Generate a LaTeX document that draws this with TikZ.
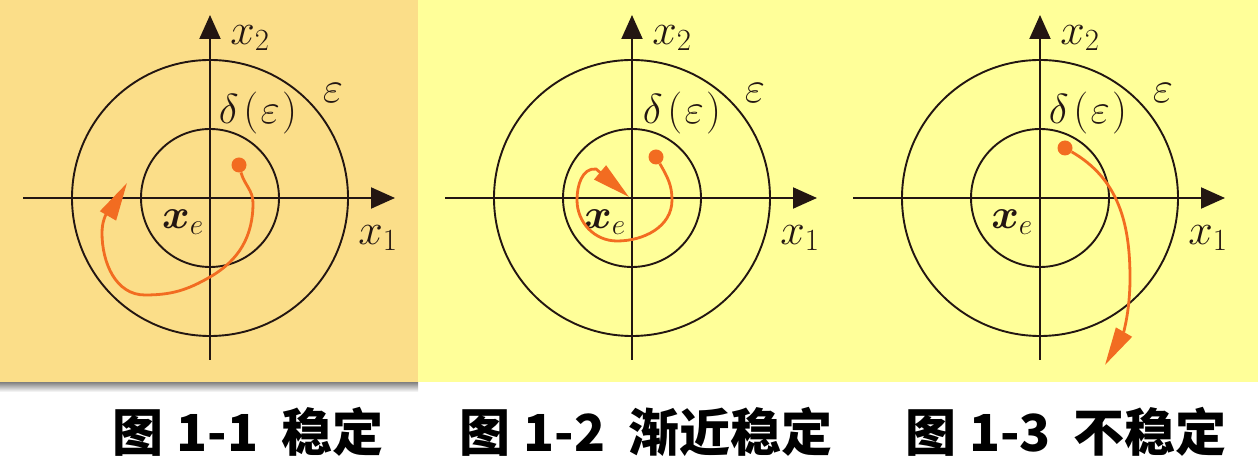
\RequirePackage{fix-cm}
\documentclass[tikz,border=0pt]{standalone}
\usepackage{fontspec}
\newfontfamily\cjk{Noto Sans CJK SC}
\usepackage{amsmath,bm}
\usetikzlibrary{arrows.meta}
\definecolor{panelA}{RGB}{251,222,137}
\definecolor{panelB}{RGB}{255,255,153}
\definecolor{shade}{RGB}{232,230,236}
\definecolor{axiscol}{RGB}{35,22,18}
\definecolor{orbitcol}{RGB}{242,108,33}
\tikzset{
  axis/.style={line width=2pt,color=axiscol,-{Triangle[length=24pt,width=21pt]}},
  ring/.style={line width=1.9pt,color=axiscol},
  orbit/.style={line width=2.8pt,color=orbitcol,-{Triangle[length=38pt,width=18pt]}},
  dot/.style={circle,fill=orbitcol,minimum size=15pt,inner sep=0pt},
  lbl/.style={inner sep=0pt,text=axiscol,font=\fontsize{44}{44}\selectfont},
  slbl/.style={inner sep=0pt,text=axiscol,font=\fontsize{42}{42}\selectfont},
  figcap/.style={inner sep=0pt,font=\cjk\bfseries\fontsize{51}{51}\selectfont}
}
\begin{document}
\begin{tikzpicture}[x=1pt,y=1pt]
    \useasboundingbox (0,0) rectangle (1258,471);
    \fill[white] (0,0) rectangle (1258,471);
    \fill[shade] (0,79) rectangle (418,89);
    \fill[panelA] (0,89) rectangle (418,471);
    \fill[panelB] (418,89) rectangle (1258,471);

    % stable
    \begin{scope}[shift={(210,273)}]
      \draw[ring] (0,0) circle (138);
      \draw[ring] (0,0) circle (69);
      \draw[axis] (-187,0) -- (185,0);
      \draw[axis] (0,-162) -- (0,183);
      \node[lbl] (xa2) at (40,160) {$x_2$};
      \node[lbl] (xa1) at (168,-40) {$x_1$};
      \node[lbl] (epsa) at (123,105) {$\varepsilon$};
      \node[slbl] (dela) at (48,85) {$\delta\mkern2mu(\mkern1mu\varepsilon\mkern1mu)$};
      \node[slbl] (xea) at (-27,-24) {$\bm{x}_e$};
      \node[dot] (sa) at (29,33) {};
      \coordinate (ta) at (-83,15);
      \draw[orbit] (sa) to[out=-75,in=90] (43,-5) to[out=-90,in=30] (0,-79)
           to[out=210,in=0] (-65,-97) to[out=180,in=-90] (-108,-35)
           to[out=90,in=240] (ta);
    \end{scope}

    % asymptotically stable
    \begin{scope}[shift={(632,273)}]
      \draw[ring] (0,0) circle (138);
      \draw[ring] (0,0) circle (69);
      \draw[axis] (-187,0) -- (185,0);
      \draw[axis] (0,-162) -- (0,183);
      \node[lbl] (xb2) at (40,160) {$x_2$};
      \node[lbl] (xb1) at (168,-40) {$x_1$};
      \node[lbl] (epsb) at (123,105) {$\varepsilon$};
      \node[slbl] (delb) at (50,85) {$\delta\mkern2mu(\mkern1mu\varepsilon\mkern1mu)$};
      \node[slbl] (xeb) at (-27,-24) {$\bm{x}_e$};
      \node[dot] (sb) at (24,41) {};
      \coordinate (tb) at (-3,1);
      \draw[orbit] (sb) to[out=-60,in=90] (40,-2) to[out=-90,in=0] (-15,-43)
           to[out=180,in=-90] (-55,-2) to[out=90,in=175] (-36,29) -- (tb);
    \end{scope}

    % unstable
    \begin{scope}[shift={(1040,273)}]
      \draw[ring] (0,0) circle (138);
      \draw[ring] (0,0) circle (69);
      \draw[axis] (-187,0) -- (185,0);
      \draw[axis] (0,-162) -- (0,183);
      \node[lbl] (xc2) at (40,160) {$x_2$};
      \node[lbl] (xc1) at (168,-40) {$x_1$};
      \node[lbl] (epsc) at (123,105) {$\varepsilon$};
      \node[slbl] (delc) at (48,85) {$\delta\mkern2mu(\mkern1mu\varepsilon\mkern1mu)$};
      \node[slbl] (xec) at (-28,-24) {$\bm{x}_e$};
      \node[dot] (sc) at (25,50) {};
      \coordinate (tc) at (65,-167);
      \draw[orbit] (sc) to[out=-30,in=90] (90,-80) to[out=-90,in=60] (tc);
    \end{scope}

    \node[figcap] (capa) at (248,39) {图\hspace{0.25em}1-1\hspace{0.45em}稳定};
    \node[figcap] (capb) at (646,39) {图\hspace{0.25em}1-2\hspace{0.45em}渐近稳定};
    \node[figcap] (capc) at (1066,39) {图\hspace{0.25em}1-3\hspace{0.45em}不稳定};
\end{tikzpicture}
\end{document}
